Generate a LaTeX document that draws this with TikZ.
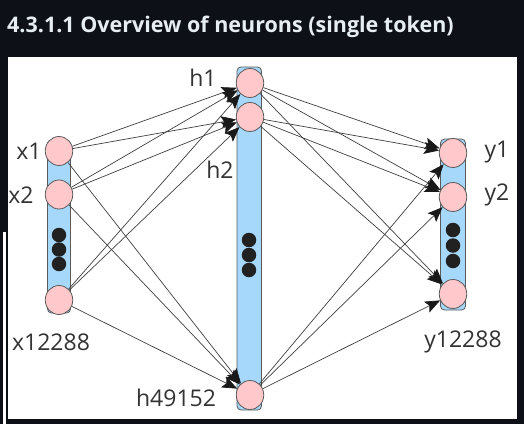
\documentclass[tikz,border=0pt]{standalone}
\usepackage{fontspec}
\setmainfont{Open Sans}
\usetikzlibrary{arrows.meta,shapes.geometric}
\definecolor{pagebg}{HTML}{0D1117}
\definecolor{titlefg}{HTML}{E6EDF3}
\definecolor{cellpink}{HTML}{FFC9CB}
\definecolor{barblue}{HTML}{A6D8FB}
\definecolor{rimgray}{HTML}{5A5A5A}
\begin{document}
\begin{tikzpicture}[x=1pt,y=-1pt,
    neuron/.style={draw=rimgray, fill=cellpink, line width=0.8pt, ellipse, minimum width=27.5pt, minimum height=29pt, inner sep=0pt},
    blob/.style={fill=black!87, circle, minimum size=14.5pt, inner sep=0pt},
    lbl/.style={text=black!80, font=\fontsize{23}{23}\selectfont, inner sep=0pt},
    bar/.style={draw=rimgray, fill=barblue, line width=0.8pt, rounded corners=4pt},
    syn/.style={draw=black!75, line width=0.7pt, -{Stealth[length=15pt,width=12pt,inset=3pt,black!90]}}]
    \useasboundingbox (0,0) rectangle (524,424);
    \fill[pagebg] (0,0) rectangle (524,424);
    \fill[white] (8,57) rectangle (517,419);
    \fill[white] (3,232) rectangle (5.5,424);

    \node (title) at (7,32) [anchor=base west, text=titlefg, inner sep=0pt, font=\bfseries\fontsize{21.5}{21.5}\selectfont] {4.3.1.1 Overview of neurons (single token)};

    % bars
    \draw[bar] (47.5,140) rectangle (70.5,313);
    \draw[bar] (237,67) rectangle (261.5,410);
    \draw[bar] (440.5,139) rectangle (465.5,310);

    % input layer
    \node (x1) at (59,151)   [neuron] {};
    \node (x2) at (59,194.5) [neuron] {};
    \node (xN) at (59,300)   [neuron] {};
    \node (xd1) at (59,235)   [blob] {};
    \node (xd2) at (59,249.5) [blob] {};
    \node (xd3) at (59,264)   [blob] {};
    \node (lx1) at (29,151) [lbl] {x1};
    \node (lx2) at (21,195) [lbl] {x2};
    \node (lxN) at (51,342) [lbl] {x12288};

    % hidden layer
    \node (h1) at (250,83)  [neuron] {};
    \node (h2) at (250,117) [neuron] {};
    \node (hN) at (250,395) [neuron] {};
    \node (hd1) at (249,240) [blob] {};
    \node (hd2) at (249,255) [blob] {};
    \node (hd3) at (249,270) [blob] {};
    \node (lh1) at (203,78)  [lbl] {h1};
    \node (lh2) at (220,170) [lbl] {h2};
    \node (lhN) at (176,398) [lbl] {h49152};

    % output layer
    \node (y1) at (453,153) [neuron] {};
    \node (y2) at (453,197) [neuron] {};
    \node (yN) at (453,294) [neuron] {};
    \node (yd1) at (453,230)   [blob] {};
    \node (yd2) at (453,245.5) [blob] {};
    \node (yd3) at (453,261)   [blob] {};
    \node (ly1) at (497,152) [lbl] {y1};
    \node (ly2) at (497,195) [lbl] {y2};
    \node (lyN) at (463,342) [lbl] {y12288};

    % x -> h
    \draw[syn] (x1) -- (h1);
    \draw[syn] (x1) -- (h2);
    \draw[syn] (x1) -- (hN);
    \draw[syn] (x2) -- (h1);
    \draw[syn] (x2) -- (h2);
    \draw[syn] (x2) -- (hN);
    \draw[syn] (xN) -- (h1);
    \draw[syn] (xN) -- (h2);
    \draw[syn] (xN) -- (hN);

    % h -> y
    \draw[syn] (h1) -- (y1);
    \draw[syn] (h1) -- (y2);
    \draw[syn] (h1) -- (yN);
    \draw[syn] (h2) -- (y1);
    \draw[syn] (h2) -- (y2);
    \draw[syn] (h2) -- (yN);
    \draw[syn] (hN) -- (y1);
    \draw[syn] (hN) -- (y2);
    \draw[syn] (hN) -- (yN);
\end{tikzpicture}
\end{document}
